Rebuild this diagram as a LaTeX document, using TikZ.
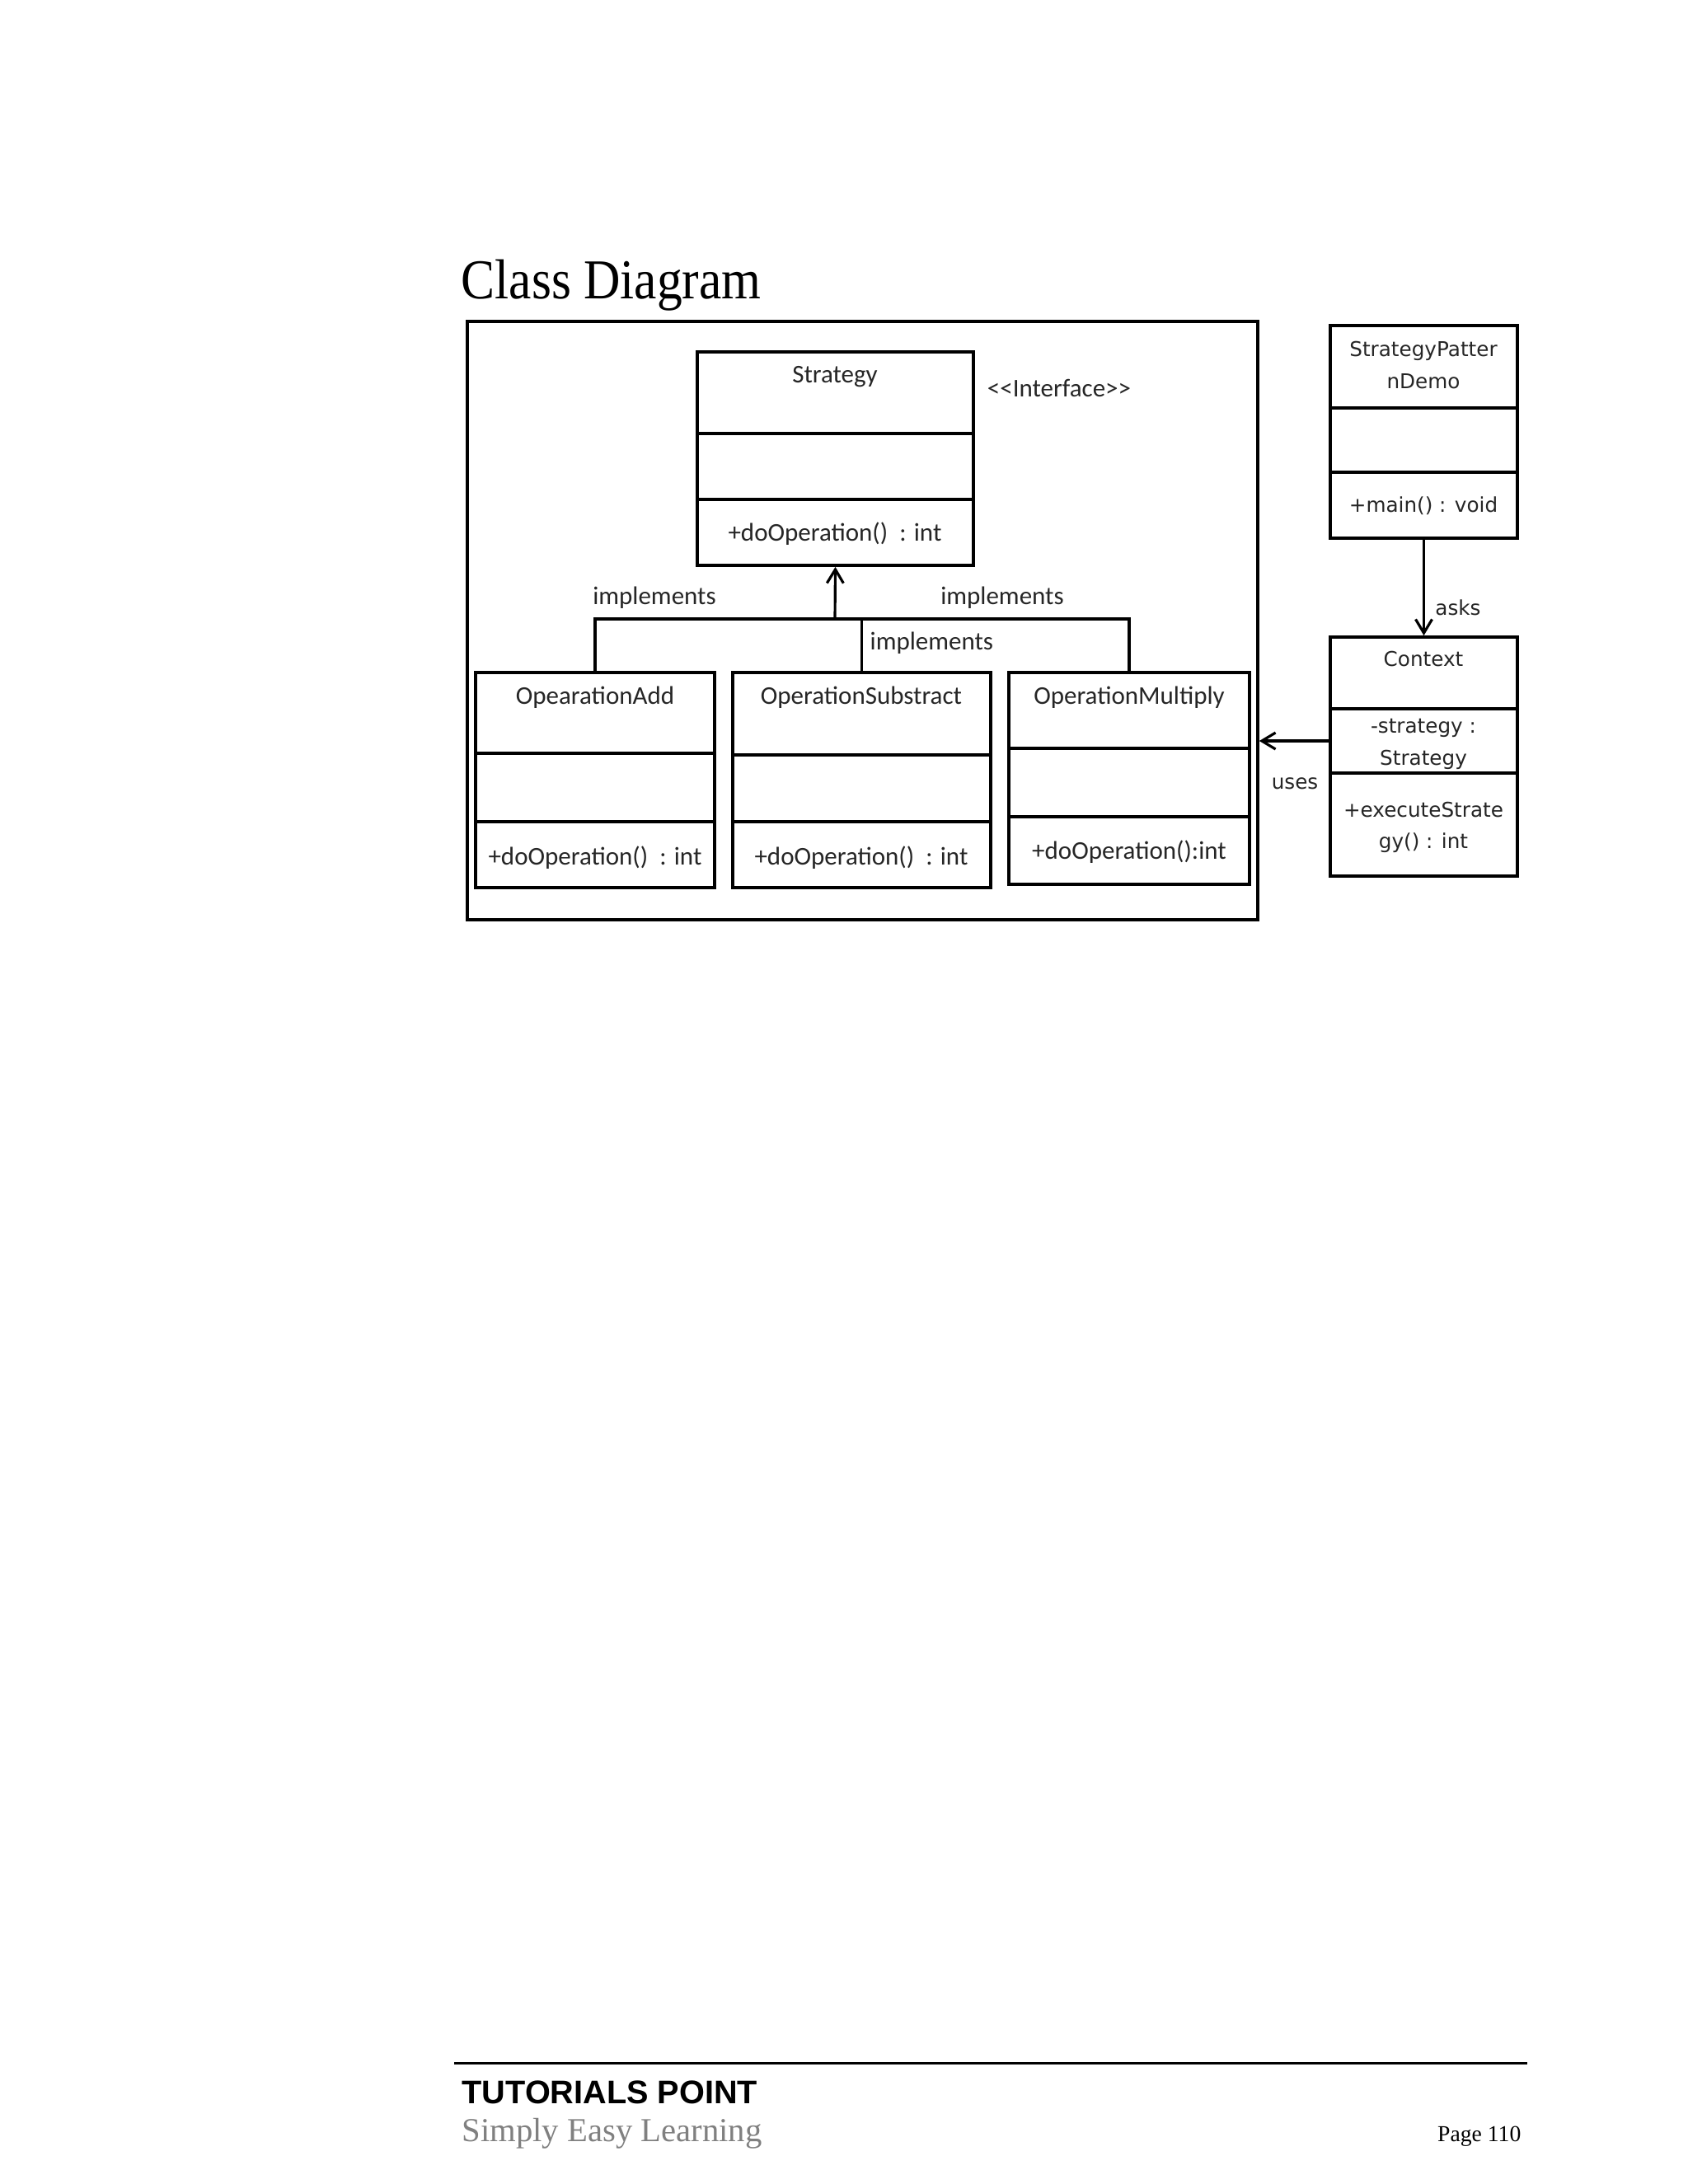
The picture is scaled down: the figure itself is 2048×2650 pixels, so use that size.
\documentclass[tikz,border=0pt]{standalone}
\usepackage{fontspec}
\setmainfont{Carlito}
\newfontfamily\dvfont{DejaVu Sans}
\newfontfamily\serffont{Liberation Serif}
\newfontfamily\arfont{Liberation Sans}
\usetikzlibrary{fit,arrows.meta}
\begin{document}
\begin{tikzpicture}[x=0.3pt,y=-0.3pt,
  comp/.style={draw=black, line width=1.1pt, inner sep=0pt},
  cal/.style={inner sep=0pt, text=black!85, font=\fontsize{9.3}{11}\selectfont},
  dv/.style={inner sep=0pt, text=black!85, font=\dvfont\fontsize{7.4}{11.6}\selectfont, align=center},
  conn/.style={line width=0.95pt, draw=black},
  tip/.style={-{Straight Barb[length=5pt,width=6pt]}}
]
\useasboundingbox (0,0) rectangle (2048,2650);
\fill[white] (0,0) rectangle (2048,2650);

% title
\node[anchor=base west, inner sep=0pt, font=\serffont\fontsize{20.5}{24}\selectfont] (title) at (559,362) {\scalebox{0.9}[1]{Class Diagram}};

% outer frame
\node[comp, fit={(567,390) (1526,1116)}] (frame) {};

% Strategy
\node[comp, fit={(846,427) (1181,526)}] (s1) {};
\node[comp, fit={(846,526) (1181,606)}] (s2) {};
\node[comp, fit={(846,606) (1181,686)}] (s3) {};
% OpearationAdd
\node[comp, fit={(577,816) (867,914)}] (add1) {};
\node[comp, fit={(577,914) (867,997)}] (add2) {};
\node[comp, fit={(577,997) (867,1077)}] (add3) {};
% OperationSubstract
\node[comp, fit={(889,816) (1202,916)}] (sub1) {};
\node[comp, fit={(889,916) (1202,997)}] (sub2) {};
\node[comp, fit={(889,997) (1202,1077)}] (sub3) {};
% OperationMultiply
\node[comp, fit={(1224,816) (1516,908)}] (mul1) {};
\node[comp, fit={(1224,908) (1516,991)}] (mul2) {};
\node[comp, fit={(1224,991) (1516,1073)}] (mul3) {};
% StrategyPatternDemo
\node[comp, fit={(1614,395) (1841,495)}] (spd1) {};
\node[comp, fit={(1614,495) (1841,573)}] (spd2) {};
\node[comp, fit={(1614,573) (1841,653)}] (spd3) {};
% Context
\node[comp, fit={(1614,773) (1841,860)}] (ctx1) {};
\node[comp, fit={(1614,860) (1841,938)}] (ctx2) {};
\node[comp, fit={(1614,938) (1841,1063)}] (ctx3) {};

% connectors
\coordinate (bus) at (1013,751);
\draw[conn] (add1.north) |- (bus);
\draw[conn] (sub1.north) |- (bus);
\draw[conn] (mul1.north) |- (bus);
\draw[conn,tip] (bus) -- (s3.south);
\draw[conn,tip] (spd3.south) -- (ctx1.north);
\draw[conn,tip] (ctx2.west) -- (frame.east |- ctx2.west);

% texts
\node[cal] (tstrat) at (1013,457) {Strategy};
\node[cal] (tiface) at (1285,471) {<{}<Interface>{}>};
\node[cal] (tsop) at (1013,648) {+doOperation()~ : int};
\node[cal] (impl1) at (794,725) {implements};
\node[cal] (impl2) at (1216,725) {implements};
\node[cal, anchor=west] (impl3) at (1055,780) {implements};
\node[cal] (tadd) at (722,846) {OpearationAdd};
\node[cal] (tsub) at (1045,846) {OperationSubstract};
\node[cal] (tmul) at (1370,846) {OperationMultiply};
\node[cal] (taddop) at (722,1041) {+doOperation()~ : int};
\node[cal] (tsubop) at (1045,1041) {+doOperation()~ : int};
\node[cal] (tmulop) at (1370,1034) {+doOperation():int};

\node[dv] (tspd) at (1727,443) {StrategyPatter\\nDemo};
\node[dv] (tmain) at (1727,614) {+main() : void};
\node[dv] (tasks) at (1769,737) {asks};
\node[dv] (tctx) at (1727,800) {Context};
\node[dv] (tattr) at (1727,903) {-strategy :\\Strategy};
\node[dv] (texec) at (1727,1004) {+executeStrate\\gy() : int};
\node[dv] (tuses) at (1571,951) {uses};

% footer
\draw[line width=0.9pt] (551,2503) -- (1853,2503);
\node[anchor=base west, inner sep=0pt, font=\arfont\bfseries\fontsize{11.9}{14}\selectfont] (tp) at (560,2552) {TUTORIALS POINT};
\node[anchor=base west, inner sep=0pt, text=black!50, font=\serffont\fontsize{12.2}{14}\selectfont] (sel) at (560,2598) {Simply Easy Learning};
\node[anchor=base east, inner sep=0pt, font=\serffont\fontsize{8.3}{10}\selectfont] (pg) at (1846,2598) {Page 110};
\end{tikzpicture}
\end{document}
